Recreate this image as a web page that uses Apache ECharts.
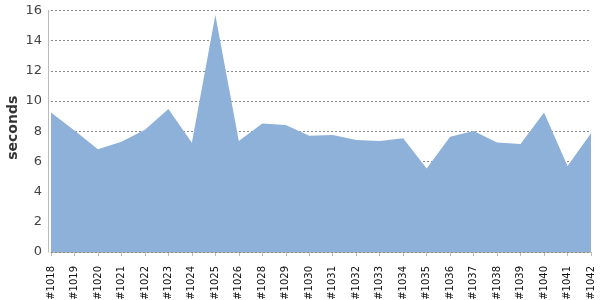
<!DOCTYPE html>
<html><head><meta charset="utf-8">
<script src="https://cdn.jsdelivr.net/npm/echarts@6/dist/echarts.min.js"></script>
<style>html,body{margin:0;padding:0;background:#fff}#c{width:600px;height:300px}</style>
</head><body><div id="c"></div>
<script>
var categories = ["#1018","#1019","#1020","#1021","#1022","#1023","#1024","#1025","#1026","#1028","#1029","#1030","#1031","#1032","#1033","#1034","#1035","#1036","#1037","#1038","#1039","#1040","#1041","#1042"];
var durations = [9.25,8.05,6.8,7.3,8.1,9.47,7.24,15.7,7.35,8.52,8.41,7.7,7.75,7.42,7.35,7.53,5.54,7.64,8.01,7.26,7.15,9.25,5.7,7.86];
var yTicks = [0,2,4,6,8,10,12,14,16];

var chart = echarts.init(document.getElementById('c'), null, {renderer:'canvas'});
chart.setOption({
  animation:false,
  grid:{left:51,right:9,top:10.5,bottom:48,containLabel:false,outerBoundsMode:'none'},
  xAxis:{
    type:'category', data:categories, boundaryGap:false, offset:5,
    axisLine:{lineStyle:{color:'#bbb',width:1}},
    axisTick:{alignWithLabel:true,length:4,lineStyle:{color:'#bbb'}},
    axisLabel:{rotate:90,fontSize:10,color:'#111',fontFamily:'DejaVu Sans',margin:9,interval:0}
  },
  yAxis:{
    type:'value', min:yTicks[0], max:yTicks[yTicks.length-1], interval:2, offset:3, z:3,
    name:'seconds', nameLocation:'middle', nameGap:28, nameMoveOverlap:false,
    nameTextStyle:{fontSize:14,fontWeight:'bold',color:'#333',fontFamily:'DejaVu Sans',padding:[0,0,0,7]},
    axisLine:{show:true,lineStyle:{color:'#bbb'}},
    axisTick:{show:false},
    axisLabel:{fontSize:13,color:'#444',fontFamily:'DejaVu Sans',margin:6},
    splitLine:{lineStyle:{color:'#8a8a8a',type:[2,2],width:1}}
  },
  series:[{
    type:'line', data:durations, symbol:'none',
    lineStyle:{width:0},
    areaStyle:{color:'#8eb1da',opacity:1}
  }]
});
</script></body></html>
